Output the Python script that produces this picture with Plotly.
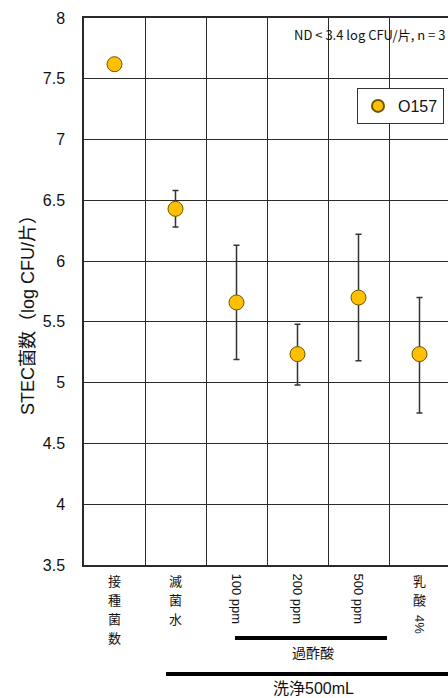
import plotly.graph_objects as go

# ---- data ----
categories = ["接種菌数", "滅菌水", "過酢酸100ppm", "過酢酸200ppm", "過酢酸500ppm", "乳酸4%"]
means = [7.62, 6.43, 5.66, 5.235, 5.70, 5.235]
upper = [None, 6.58, 6.13, 5.48, 6.22, 5.70]
lower = [None, 6.28, 5.19, 4.98, 5.18, 4.75]
label_upright = ["接種菌数", "滅菌水", "", "", "", "乳酸"]
label_rotated = ["", "", "100 ppm", "200 ppm", "500 ppm", "4%"]
y_ticks = [3.5, 4, 4.5, 5, 5.5, 6, 6.5, 7, 7.5, 8]
series_name = "O157"
note_text = "ND &lt; 3.4 log CFU/片, n = 3"
group_labels = ["過酢酸", "洗浄500mL"]
y_title = "STEC菌数（log CFU/片）"

err_plus = [None if u is None else round(u - m, 3) for u, m in zip(upper, means)]
err_minus = [None if l is None else round(m - l, 3) for l, m in zip(lower, means)]

W, H = 448, 698
L, T, B, R = 84, 18, 133, 0
PH = H - T - B
PW = W - L - R
def py(p):  # pixel y -> paper
    return (H - B - p) / PH
def px(p):  # pixel x -> paper
    return (p - L) / PW

SANS = "Liberation Sans, Arial, sans-serif"
CJK = "Liberation Sans, Noto Sans CJK JP, sans-serif"
JP = "Noto Sans CJK JP, sans-serif"
GRID = "#2a2a2a"

fig = go.Figure()
fig.add_trace(go.Scatter(
    x=categories, y=means, mode="markers", name=series_name,
    marker=dict(size=15, color="#FFC000", line=dict(color="#6b5300", width=1)),
    error_y=dict(type="data", symmetric=False, array=err_plus, arrayminus=err_minus,
                 color="#333333", thickness=1.5, width=3),
    showlegend=True,
))

STEP = 19.0
FIRST = 580.5
annotations = []
# upright stacked characters
for cat, lab in zip(categories, label_upright):
    for i, ch in enumerate(lab):
        annotations.append(dict(x=cat, xref="x", y=py(FIRST + i * STEP), yref="paper",
                                text=ch, showarrow=False, borderpad=0,
                                font=dict(size=13, family=JP, color="#111"),
                                xanchor="center", yanchor="middle"))
# rotated labels
for cat, up, lab in zip(categories, label_upright, label_rotated):
    if not lab:
        continue
    if up:
        cy = FIRST + (len(up) - 1) * STEP + 25
    else:
        cy = 599
    annotations.append(dict(x=cat, xref="x", y=py(cy), yref="paper", text=lab, textangle=90,
                            showarrow=False, font=dict(size=13, family=SANS, color="#111"),
                            xanchor="center", yanchor="middle"))
# group labels
annotations.append(dict(x=px(313), xref="paper", y=py(652), yref="paper", text=group_labels[0],
                        showarrow=False, font=dict(size=14, family=JP, color="#111"),
                        xanchor="center", yanchor="middle"))
annotations.append(dict(x=px(313), xref="paper", y=py(688), yref="paper", text=group_labels[1],
                        showarrow=False, font=dict(size=16, family=CJK, color="#111"),
                        xanchor="center", yanchor="middle"))
# note
annotations.append(dict(x=px(369), xref="paper", y=py(35), yref="paper", text=note_text,
                        showarrow=False, font=dict(size=13, family=JP, color="#111"),
                        xanchor="center", yanchor="middle"))
# y title
annotations.append(dict(x=px(28), xref="paper", y=py(311), yref="paper", text=y_title, textangle=-90,
                        showarrow=False, font=dict(size=18, family=CJK, color="#111"),
                        xanchor="center", yanchor="middle"))

shapes = [
    dict(type="rect", xref="paper", yref="paper", x0=px(290), x1=1.02, y0=py(53), y1=1,
         fillcolor="white", line=dict(width=0), layer="between"),
    dict(type="line", xref="paper", yref="paper", x0=px(235), x1=px(387), y0=py(638), y1=py(638),
         line=dict(color="black", width=4)),
    dict(type="line", xref="paper", yref="paper", x0=px(166), x1=px(452), y0=py(674), y1=py(674),
         line=dict(color="black", width=4)),
]

fig.update_layout(
    width=W, height=H,
    margin=dict(l=L, r=R, t=T, b=B, pad=0),
    paper_bgcolor="white", plot_bgcolor="white",
    font=dict(family=SANS, color="#111"),
    showlegend=True,
    legend=dict(x=px(444), xanchor="right", y=py(88), yanchor="top",
                bgcolor="white", bordercolor="#333", borderwidth=1,
                font=dict(size=16, family=SANS, color="#111"),
                itemwidth=30, tracegroupgap=0, itemsizing="constant"),
    annotations=annotations,
    shapes=shapes,
    xaxis=dict(type="category", categoryorder="array", categoryarray=categories,
               range=[-0.5, -0.5 + PW / 61.0], tickson="boundaries",
               showgrid=True, gridcolor=GRID, gridwidth=1.3,
               showticklabels=False, ticks="", showline=True, linecolor=GRID, linewidth=1.5,
               mirror=True, zeroline=False),
    yaxis=dict(range=[3.5, 8], tickvals=y_ticks, ticktext=[f"{v:g}" for v in y_ticks],
               showgrid=True, gridcolor=GRID, gridwidth=1.3, zeroline=False,
               showline=True, linecolor=GRID, linewidth=1.5, ticks="",
               ticklabelstandoff=14,
               tickfont=dict(size=16, family=SANS, color="#111")),
)

fig.write_html("out.html")
